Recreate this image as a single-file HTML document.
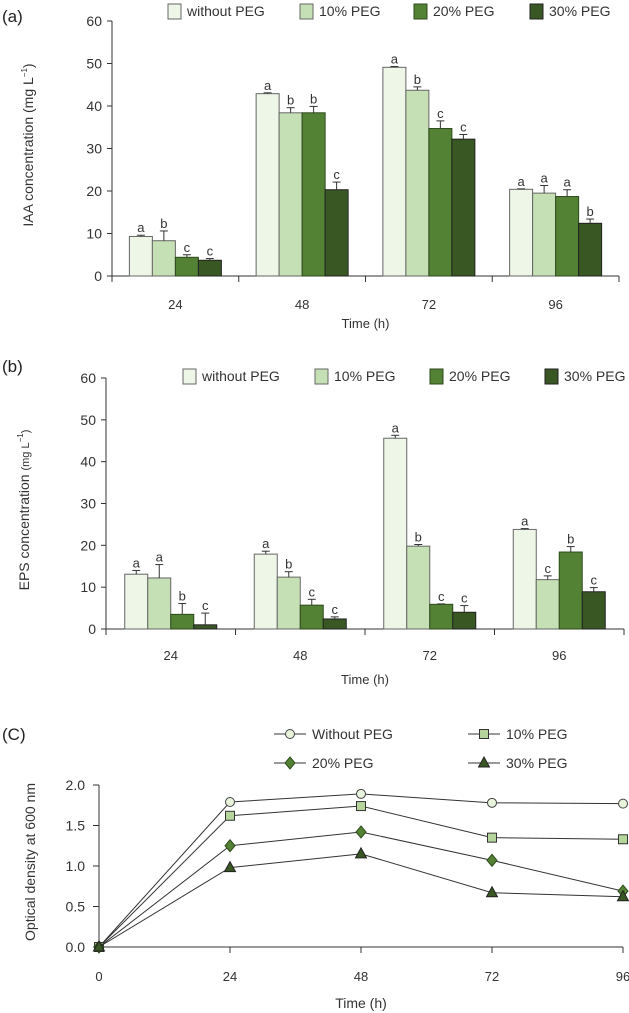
<!DOCTYPE html>
<html><head><meta charset="utf-8"><style>
html,body{margin:0;padding:0;background:#fff;}
svg{display:block;font-family:"Liberation Sans",sans-serif;}
</style></head><body>
<svg id="fig" width="629" height="1013" viewBox="0 0 629 1013" xmlns="http://www.w3.org/2000/svg"></svg>
<script>
const NS='http://www.w3.org/2000/svg';
const svg=document.getElementById('fig');
// ---- data ----
const times=['24','48','72','96'];
const groups=['without PEG','10% PEG','20% PEG','30% PEG'];
const iaaWithout=[9.3,42.9,49.1,20.4];
const iaa10=[8.3,38.4,43.7,19.5];
const iaa20=[4.4,38.4,34.7,18.7];
const iaa30=[3.7,20.3,32.2,12.4];
const iaaErrWithout=[0.3,0.2,0.2,0.1];
const iaaErr10=[2.3,1.2,0.8,1.8];
const iaaErr20=[0.6,1.5,1.8,1.6];
const iaaErr30=[0.4,1.8,1.1,1.0];
const iaaLetters=[['a','b','c','c'],['a','b','b','c'],['a','b','c','c'],['a','a','a','b']];
const epsWithout=[13.1,17.9,45.6,23.8];
const eps10=[12.2,12.4,19.8,11.8];
const eps20=[3.5,5.7,5.9,18.4];
const eps30=[1.0,2.4,4.0,8.9];
const epsErrWithout=[0.9,0.7,0.7,0.2];
const epsErr10=[3.2,1.3,0.4,0.9];
const epsErr20=[2.6,1.4,0.1,1.3];
const epsErr30=[2.8,0.5,1.6,1.0];
const epsLetters=[['a','a','b','c'],['a','b','c','c'],['a','b','c','c'],['a','c','b','c']];
const barTicks=[0,10,20,30,40,50,60];
const odTimes=[0,24,48,72,96];
const odWithout=[0,1.79,1.89,1.78,1.77];
const od10=[0,1.62,1.74,1.35,1.33];
const od20=[0,1.25,1.42,1.07,0.69];
const od30=[0,0.98,1.15,0.67,0.62];
const odTicks=[0,0.5,1.0,1.5,2.0];
const odNames=['Without PEG','10% PEG','20% PEG','30% PEG'];

const fills=['#eef6e8','#c5e0b4','#548235','#385723'];
const strokes=['#666','#666','#2e4a1c','#222'];

function el(tag,attrs,parent,text){const e=document.createElementNS(NS,tag);for(const k in attrs)e.setAttribute(k,attrs[k]);if(text!==undefined)e.textContent=text;(parent||svg).appendChild(e);return e;}

function barChart(o){
  const g=el('g',{});
  
  
  const y=v=>o.y0-(v/60)*(o.y0-o.y60);
  const cw=(o.xR-o.xL)/times.length;
  // y axis
  const ya=el('line',{x1:o.xL,y1:o.y60,x2:o.xL,y2:o.y0+5,stroke:'#333','stroke-width':1},g);
  
  barTicks.forEach(t=>{
    el('line',{x1:o.xL-5,y1:y(t),x2:o.xL,y2:y(t),stroke:'#333'},g);
    const tl=el('text',{x:o.xL-10,y:y(t)+5,'text-anchor':'end','font-size':14,fill:'#333'},g,String(t));
    
  });
  const xa=el('line',{x1:o.xL-5,y1:o.y0,x2:o.xR,y2:o.y0,stroke:'#333'},g);
  
  for(let i=0;i<=times.length;i++){const bx=o.xL+i*cw;el('line',{x1:bx,y1:o.y0,x2:bx,y2:o.y0+6,stroke:'#333'},g);}
  times.forEach((t,i)=>{
    const cx=o.xL+(i+0.5)*cw;
    const tl=el('text',{x:cx,y:o.labY,'text-anchor':'middle','font-size':13,fill:'#333'},g,t);
    
    o.series.forEach((s,j)=>{
      const bw=23,bx=cx-46+j*bw,v=s[i],e=o.errs[j][i];
      const r=el('rect',{x:bx,y:y(v),width:bw,height:o.y0-y(v),fill:fills[j],stroke:strokes[j],'stroke-width':1},g);
      
      const cxb=bx+bw/2;
      el('line',{x1:cxb,y1:y(v),x2:cxb,y2:y(v+e),stroke:'#333'},g);
      el('line',{x1:cxb-4,y1:y(v+e),x2:cxb+4,y2:y(v+e),stroke:'#333'},g);
      const lt=el('text',{x:cxb,y:y(v+e)-3,'text-anchor':'middle','font-size':13,fill:'#333'},g,o.letters[i][j]);
      
    });
  });
  const xt=el('text',{x:(o.xL+o.xR)/2,y:o.titleY,'text-anchor':'middle','font-size':13,fill:'#333'},g,'Time (h)');
  
  const yt=el('text',{x:0,y:0,transform:'translate('+o.ytX+','+o.ytY+') rotate(-90)','text-anchor':'middle','font-size':14,fill:'#333'},g);
  
  yt.textContent=o.ytitle+' ';
  const sm=el('tspan',{'font-size':o.smallUnit?11:14},yt,'(mg L');
  el('tspan',{'font-size':8,dy:-6},yt,'−1');
  el('tspan',{'font-size':o.smallUnit?11:14,dy:6},yt,')');
  groups.forEach((n,j)=>{
    const lg=el('g',{},g);
    
    el('rect',{x:o.legX[j],y:o.legY-7,width:13,height:15,fill:fills[j],stroke:strokes[j]},lg);
    el('text',{x:o.legX[j]+19,y:o.legY+5,'font-size':14,fill:'#333'},lg,n);
  });
  const pl=el('text',{x:2,y:o.panY,'font-size':17,fill:'#222'},g,o.panel);
  
}
barChart({name:'iaa-chart',panel:'(a)',panY:22,xL:112,xR:619,y0:276,y60:21,labY:309,titleY:328,
  series:[iaaWithout,iaa10,iaa20,iaa30],errs:[iaaErrWithout,iaaErr10,iaaErr20,iaaErr30],letters:iaaLetters,
  ytitle:'IAA concentration',ytX:33,ytY:145,legX:[168,300,414,530],legY:11,smallUnit:false});
barChart({name:'eps-chart',panel:'(b)',panY:372,xL:106,xR:624,y0:629,y60:378,labY:660,titleY:684,
  series:[epsWithout,eps10,eps20,eps30],errs:[epsErrWithout,epsErr10,epsErr20,epsErr30],letters:epsLetters,
  ytitle:'EPS concentration',ytX:29,ytY:510,legX:[183,315,430,545],legY:376,smallUnit:true});

// ---- line chart (c) ----
(function(){
  const g=el('g',{});
  
  const x0=99,x96=623,y0=947,y2=785;
  const X=t=>x0+t/96*(x96-x0), Y=v=>y0-v/2*(y0-y2);
  const ya=el('line',{x1:x0,y1:y2,x2:x0,y2:y0,stroke:'#333'},g);
  
  odTicks.forEach(t=>{
    el('line',{x1:x0-6,y1:Y(t),x2:x0,y2:Y(t),stroke:'#333'},g);
    const tl=el('text',{x:x0-14,y:Y(t)+5,'text-anchor':'end','font-size':14,fill:'#333'},g,t.toFixed(1));
    
  });
  const xa=el('line',{x1:x0-6,y1:y0,x2:x96,y2:y0,stroke:'#333'},g);
  
  odTimes.forEach(t=>{
    el('line',{x1:X(t),y1:y0,x2:X(t),y2:y0+6,stroke:'#333'},g);
    const tl=el('text',{x:X(t),y:981,'text-anchor':'middle','font-size':13,fill:'#333'},g,String(t));
    
  });
  const xt=el('text',{x:361,y:1008,'text-anchor':'middle','font-size':14,fill:'#333'},g,'Time (h)');
  
  const yt=el('text',{x:0,y:0,transform:'translate(35,862) rotate(-90)','text-anchor':'middle','font-size':14,fill:'#333'},g,'Optical density at 600 nm');
  
  const pl=el('text',{x:2,y:740,'font-size':17,fill:'#222'},g,'(C)');
  
  const mfill=['#e8f3dc','#b5d59c','#548235','#385723'];
  function marker(k,cx,cy,p){
    if(k===0)return el('circle',{cx:cx,cy:cy,r:4.5,fill:mfill[0],stroke:'#444'},p);
    if(k===1)return el('rect',{x:cx-4.5,y:cy-4.5,width:9,height:9,fill:mfill[1],stroke:'#333'},p);
    if(k===2)return el('polygon',{points:`${cx},${cy-6} ${cx+5},${cy} ${cx},${cy+6} ${cx-5},${cy}`,fill:mfill[2],stroke:'#2e4a1c'},p);
    return el('polygon',{points:`${cx},${cy-6} ${cx+5.5},${cy+4} ${cx-5.5},${cy+4}`,fill:mfill[3],stroke:'#222'},p);
  }
  [odWithout,od10,od20,od30].forEach((s,k)=>{
    const sg=el('g',{},g);
    
    el('polyline',{points:s.map((v,i)=>X(odTimes[i])+','+Y(v)).join(' '),fill:'none',stroke:'#333','stroke-width':1},sg);
    s.forEach((v,i)=>{const m=marker(k,X(odTimes[i]),Y(v),sg);
      });
  });
  const lx=[274,468,274,468],ly=[734,734,763,763];
  odNames.forEach((n,k)=>{
    const lg=el('g',{},g);
    
    el('line',{x1:lx[k],y1:ly[k],x2:lx[k]+32,y2:ly[k],stroke:'#333'},lg);
    marker(k,lx[k]+16,ly[k],lg);
    el('text',{x:lx[k]+38,y:ly[k]+5,'font-size':14,fill:'#333'},lg,n);
  });
})();
</script>
</body></html>
